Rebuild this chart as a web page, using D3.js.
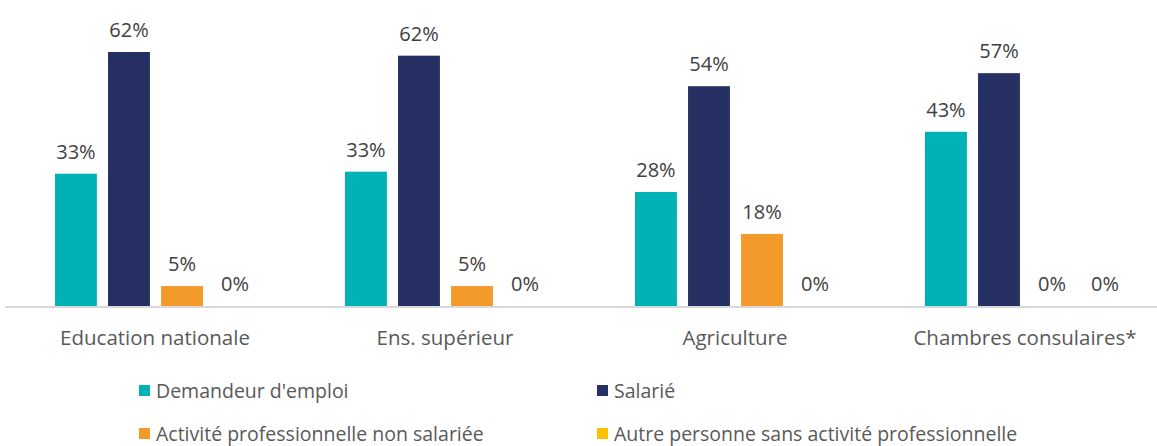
<!DOCTYPE html>
<html>
<head>
<meta charset="utf-8">
<script src="https://cdnjs.cloudflare.com/ajax/libs/d3/7.8.5/d3.min.js"></script>
<style>
  body { margin: 0; background: #fff; }
  text { font-family: "Open Sans", "Noto Sans", sans-serif; }
</style>
</head>
<body>
<div id="vis"></div>
<script>
  const categories = ["Education nationale", "Ens. supérieur", "Agriculture", "Chambres consulaires*"];
  const series = ["Demandeur d'emploi", "Salarié", "Activité professionnelle non salariée", "Autre personne sans activité professionnelle"];
  const colors = ["#00b2b5", "#263062", "#f39a2a", "#ffc000"];
  // values per series, one per category (percent)
  const demandeur = [32.5, 33, 28, 42.8];
  const salarie = [62.4, 61.5, 54, 57.2];
  const nonSalariee = [4.9, 4.9, 17.7, 0];
  const autre = [0, 0, 0, 0];
  const values = [demandeur, salarie, nonSalariee, autre];

  const width = 1157, height = 446;
  const svg = d3.select("#vis").append("svg")
      .attr("width", width)
      .attr("height", height);

  const x0 = d3.scaleBand().domain(categories).range([10, 1170]).padding(0);
  const x1 = d3.scaleBand().domain(series).range([55, 256]).paddingInner(0.21).paddingOuter(0);
  const y = d3.scaleLinear().domain([0, 62.4]).range([306, 52]);

  const groups = svg.selectAll("g.grp")
      .data(categories)
      .join("g")
      .attr("class", "grp")
      .attr("transform", c => "translate(" + (x0(c) - 10) + ",0)");

  const cells = d => series.map((s, i) => ({s: s, i: i, v: values[i][categories.indexOf(d)]}));

  groups.selectAll("rect")
      .data(cells)
      .join("rect")
      .attr("x", d => x1(d.s))
      .attr("width", x1.bandwidth())
      .attr("y", d => y(d.v))
      .attr("height", d => y(0) - y(d.v))
      .attr("fill", d => colors[d.i]);

  groups.selectAll("text.lbl")
      .data(cells)
      .join("text")
      .attr("class", "lbl")
      .attr("x", d => x1(d.s) + x1.bandwidth() / 2)
      .attr("y", d => y(d.v) - 15)
      .attr("text-anchor", "middle")
      .attr("font-size", 20)
      .attr("fill", "#404040")
      .text(d => Math.round(d.v) + "%");

  // baseline
  svg.append("line")
      .attr("x1", 5).attr("x2", width)
      .attr("y1", y(0) + 1).attr("y2", y(0) + 1)
      .attr("stroke", "#d9d9d9")
      .attr("stroke-width", 2);

  svg.selectAll("text.cat")
      .data(categories)
      .join("text")
      .attr("class", "cat")
      .attr("x", c => x0(c) + x0.bandwidth() / 2)
      .attr("y", 345)
      .attr("text-anchor", "middle")
      .attr("font-size", 20.5)
      .attr("fill", "#595959")
      .text(c => c);

  // legend
  const legX = [139, 597], legY = [391, 434];
  const leg = svg.selectAll("g.leg")
      .data(series)
      .join("g")
      .attr("class", "leg")
      .attr("transform", (s, i) => "translate(" + legX[i % 2] + "," + legY[Math.floor(i / 2)] + ")");
  leg.append("rect")
      .attr("x", 0).attr("y", -6)
      .attr("width", 11).attr("height", 11)
      .attr("fill", (s, i) => colors[i]);
  leg.append("text")
      .attr("x", 17).attr("y", 7)
      .attr("font-size", 19.5)
      .attr("fill", "#595959")
      .text(s => s);
</script>
</body>
</html>
